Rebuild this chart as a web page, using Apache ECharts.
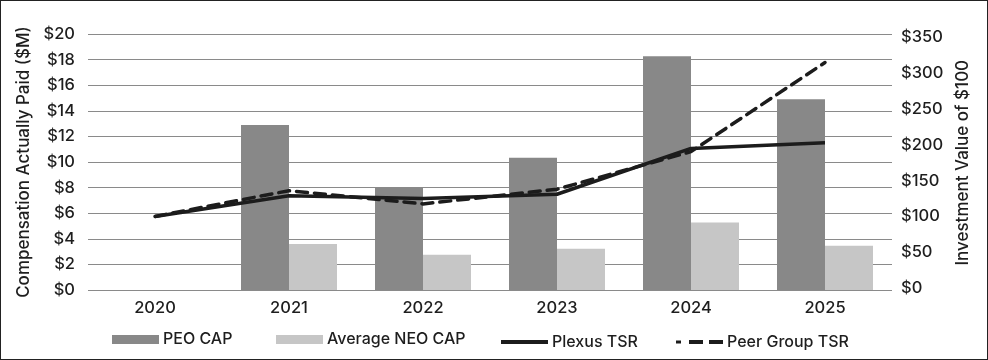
<!DOCTYPE html>
<html><head><meta charset="utf-8">
<script src="https://cdn.jsdelivr.net/npm/echarts@6/dist/echarts.min.js"></script>
<style>
html,body{margin:0;padding:0;background:#fff;}
#c{width:988px;height:360px;box-sizing:border-box;border:1px solid #222;}
</style></head><body>
<div id="c"></div>
<script>
const years = ['2020','2021','2022','2023','2024','2025'];
const peoCap = [null, 12.9, 8.0, 10.33, 18.26, 14.9];
const neoCap = [null, 3.6, 2.76, 3.23, 5.27, 3.46];
const plexusTsr = [100, 129, 125, 131, 195, 203];
const peerTsr = [100, 136, 117.5, 138, 190.5, 315];
const leftTicks = {min:0, max:20, interval:2};
const rightTicks = {min:0, max:350, interval:50};

const FONT = 'Inter';
const TXT = '#1e1e1e';
const W = 500;
const chart = echarts.init(document.getElementById('c'), null, {renderer:'canvas'});
const legendBase = {orient:'horizontal', top:325.5, itemWidth:47, itemHeight:9, itemGap:30,
  textStyle:{fontFamily:FONT, fontSize:16, fontWeight:W, color:TXT, padding:[0,0,0,-1]}};
const solidIcon = 'path://M0,0 L47,0 L47,4 L0,4 Z';
const dashIcon = 'path://M0,0.5 L5,0.5 L5,3.5 L0,3.5 Z M13,0 L27,0 L27,4 L13,4 Z M33,0 L47,0 L47,4 L33,4 Z';
chart.setOption({
  animation:false,
  grid:[
    {left:87, right:95, top:33, bottom:69, containLabel:false},
    {left:87, right:95, top:36.5, bottom:71, containLabel:false}
  ],
  legend:[
    Object.assign({}, legendBase, {left:106, data:[{name:'PEO CAP', icon:'rect'}]}),
    Object.assign({}, legendBase, {left:270, data:[{name:'Average NEO CAP', icon:'rect'}]}),
    Object.assign({}, legendBase, {left:495, itemHeight:4, top:328, data:[{name:'Plexus TSR', icon:solidIcon}]}),
    Object.assign({}, legendBase, {left:670, itemHeight:4, top:328, data:[{name:'Peer Group TSR', icon:dashIcon}]})
  ],
  xAxis:[
    {type:'category', data:years, gridIndex:0,
     axisLine:{show:false}, axisTick:{show:false},
     axisLabel:{fontFamily:FONT, fontSize:16.5, fontWeight:W, color:TXT, margin:10}},
    {type:'category', data:years, gridIndex:1, show:false}
  ],
  yAxis:[
    {type:'value', gridIndex:0, min:leftTicks.min, max:leftTicks.max, interval:leftTicks.interval,
     name:'Compensation Actually Paid ($M)', nameLocation:'middle', nameGap:55, nameRotate:90,
     nameTextStyle:{fontFamily:FONT, fontSize:17, fontWeight:W, color:TXT},
     axisLabel:{formatter:v=>'$'+v, fontFamily:FONT, fontSize:16.5, fontWeight:W, color:TXT, margin:13},
     axisLine:{show:false}, axisTick:{show:false},
     splitLine:{lineStyle:{color:'#8a8a8a', width:1}}},
    {type:'value', gridIndex:1, position:'right', min:rightTicks.min, max:rightTicks.max, interval:rightTicks.interval,
     name:'Investment Value of $100', nameLocation:'middle', nameGap:58, nameRotate:90,
     nameTextStyle:{fontFamily:FONT, fontSize:17, fontWeight:W, color:TXT},
     axisLabel:{formatter:v=>'$'+v, fontFamily:FONT, fontSize:16.5, fontWeight:W, color:TXT, margin:9},
     axisLine:{show:false}, axisTick:{show:false}, splitLine:{show:false}}
  ],
  series:[
    {name:'PEO CAP', type:'bar', xAxisIndex:0, yAxisIndex:0, data:peoCap, barWidth:48, barGap:'0%',
     itemStyle:{color:'#888888'}},
    {name:'Average NEO CAP', type:'bar', xAxisIndex:0, yAxisIndex:0, data:neoCap, barWidth:48, barGap:'0%',
     itemStyle:{color:'#c6c6c6'}},
    {name:'Plexus TSR', type:'line', xAxisIndex:1, yAxisIndex:1, data:plexusTsr, symbol:'none',
     lineStyle:{color:'#1c1c1c', width:3.5}, itemStyle:{color:'#1c1c1c'}, z:5},
    {name:'Peer Group TSR', type:'line', xAxisIndex:1, yAxisIndex:1, data:peerTsr, symbol:'none',
     lineStyle:{color:'#1c1c1c', width:3.5, type:[11,7], cap:'round'}, itemStyle:{color:'#1c1c1c'}, z:6}
  ]
});
</script>
</body></html>
